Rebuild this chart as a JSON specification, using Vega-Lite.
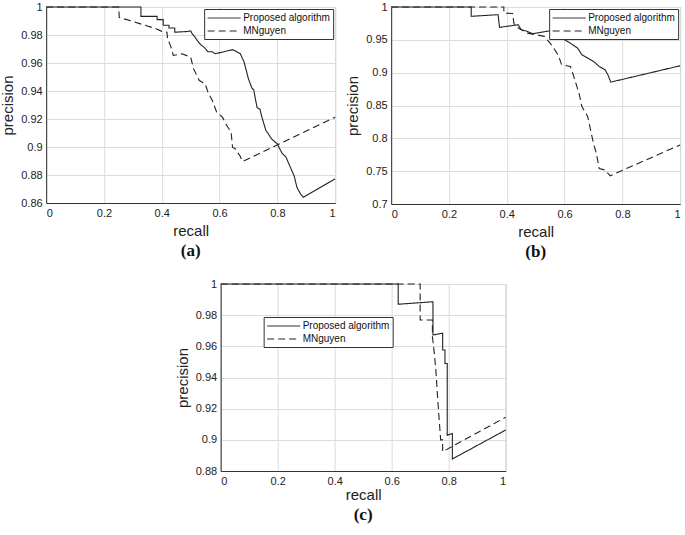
{
  "$schema": "https://vega.github.io/schema/vega-lite/v6.json",
  "background": "white",
  "padding": {"left": 0, "top": 0, "right": 0, "bottom": 0},
  "config": {
    "view": {"stroke": "#c4c4c4"},
    "axis": {"grid": true, "gridColor": "#dcdcdc", "domainColor": "#333", "ticks": false, "labelFont": "Liberation Sans", "labelFontSize": 11, "labelColor": "#222", "labelPadding": 4, "titleFont": "Liberation Sans", "titleFontSize": 15, "titleFontWeight": "normal", "titleColor": "#222", "titlePadding": 5},
    "legend": {"orient": "top-right", "offset": 2, "strokeColor": "#333", "fillColor": "white", "padding": 3, "labelFont": "Liberation Sans", "labelFontSize": 10, "labelColor": "#111", "symbolType": "M-1,0H5", "symbolSize": 121, "symbolStrokeWidth": 1, "symbolStrokeColor": "#222", "rowPadding": 2, "labelOffset": 24},
    "title": {"orient": "bottom", "font": "Liberation Serif", "fontSize": 17, "fontWeight": "bold", "color": "#111", "offset": 5}
  },
  "datasets": {
    "a": [
      {"s": "Proposed algorithm", "i": 0, "r": 0, "p": 1},
      {"s": "Proposed algorithm", "i": 1, "r": 0.328, "p": 1},
      {"s": "Proposed algorithm", "i": 2, "r": 0.328, "p": 0.9933},
      {"s": "Proposed algorithm", "i": 3, "r": 0.384, "p": 0.9933},
      {"s": "Proposed algorithm", "i": 4, "r": 0.384, "p": 0.991},
      {"s": "Proposed algorithm", "i": 5, "r": 0.405, "p": 0.991},
      {"s": "Proposed algorithm", "i": 6, "r": 0.405, "p": 0.987},
      {"s": "Proposed algorithm", "i": 7, "r": 0.425, "p": 0.987},
      {"s": "Proposed algorithm", "i": 8, "r": 0.425, "p": 0.985},
      {"s": "Proposed algorithm", "i": 9, "r": 0.445, "p": 0.985},
      {"s": "Proposed algorithm", "i": 10, "r": 0.445, "p": 0.982},
      {"s": "Proposed algorithm", "i": 11, "r": 0.49, "p": 0.9825},
      {"s": "Proposed algorithm", "i": 12, "r": 0.5, "p": 0.983},
      {"s": "Proposed algorithm", "i": 13, "r": 0.505, "p": 0.981},
      {"s": "Proposed algorithm", "i": 14, "r": 0.515, "p": 0.9785},
      {"s": "Proposed algorithm", "i": 15, "r": 0.525, "p": 0.9755},
      {"s": "Proposed algorithm", "i": 16, "r": 0.535, "p": 0.973},
      {"s": "Proposed algorithm", "i": 17, "r": 0.548, "p": 0.971},
      {"s": "Proposed algorithm", "i": 18, "r": 0.56, "p": 0.968},
      {"s": "Proposed algorithm", "i": 19, "r": 0.575, "p": 0.968},
      {"s": "Proposed algorithm", "i": 20, "r": 0.585, "p": 0.9666},
      {"s": "Proposed algorithm", "i": 21, "r": 0.645, "p": 0.9695},
      {"s": "Proposed algorithm", "i": 22, "r": 0.66, "p": 0.968},
      {"s": "Proposed algorithm", "i": 23, "r": 0.672, "p": 0.9666},
      {"s": "Proposed algorithm", "i": 24, "r": 0.685, "p": 0.9606},
      {"s": "Proposed algorithm", "i": 25, "r": 0.7, "p": 0.9487},
      {"s": "Proposed algorithm", "i": 26, "r": 0.712, "p": 0.942},
      {"s": "Proposed algorithm", "i": 27, "r": 0.718, "p": 0.941},
      {"s": "Proposed algorithm", "i": 28, "r": 0.73, "p": 0.928},
      {"s": "Proposed algorithm", "i": 29, "r": 0.74, "p": 0.927},
      {"s": "Proposed algorithm", "i": 30, "r": 0.745, "p": 0.9225},
      {"s": "Proposed algorithm", "i": 31, "r": 0.76, "p": 0.912},
      {"s": "Proposed algorithm", "i": 32, "r": 0.77, "p": 0.909},
      {"s": "Proposed algorithm", "i": 33, "r": 0.78, "p": 0.9058},
      {"s": "Proposed algorithm", "i": 34, "r": 0.8, "p": 0.9022},
      {"s": "Proposed algorithm", "i": 35, "r": 0.81, "p": 0.898},
      {"s": "Proposed algorithm", "i": 36, "r": 0.815, "p": 0.896},
      {"s": "Proposed algorithm", "i": 37, "r": 0.83, "p": 0.8927},
      {"s": "Proposed algorithm", "i": 38, "r": 0.845, "p": 0.8855},
      {"s": "Proposed algorithm", "i": 39, "r": 0.858, "p": 0.8795},
      {"s": "Proposed algorithm", "i": 40, "r": 0.868, "p": 0.871},
      {"s": "Proposed algorithm", "i": 41, "r": 0.88, "p": 0.8665},
      {"s": "Proposed algorithm", "i": 42, "r": 0.89, "p": 0.8641},
      {"s": "Proposed algorithm", "i": 43, "r": 1, "p": 0.8772},
      {"s": "MNguyen", "i": 0, "r": 0, "p": 1},
      {"s": "MNguyen", "i": 1, "r": 0.251, "p": 1},
      {"s": "MNguyen", "i": 2, "r": 0.253, "p": 0.9925},
      {"s": "MNguyen", "i": 3, "r": 0.3, "p": 0.9897},
      {"s": "MNguyen", "i": 4, "r": 0.35, "p": 0.9864},
      {"s": "MNguyen", "i": 5, "r": 0.38, "p": 0.9845},
      {"s": "MNguyen", "i": 6, "r": 0.4, "p": 0.9826},
      {"s": "MNguyen", "i": 7, "r": 0.418, "p": 0.982},
      {"s": "MNguyen", "i": 8, "r": 0.42, "p": 0.9773},
      {"s": "MNguyen", "i": 9, "r": 0.43, "p": 0.9726},
      {"s": "MNguyen", "i": 10, "r": 0.44, "p": 0.9654},
      {"s": "MNguyen", "i": 11, "r": 0.47, "p": 0.9666},
      {"s": "MNguyen", "i": 12, "r": 0.5, "p": 0.9642},
      {"s": "MNguyen", "i": 13, "r": 0.51, "p": 0.9559},
      {"s": "MNguyen", "i": 14, "r": 0.53, "p": 0.9475},
      {"s": "MNguyen", "i": 15, "r": 0.55, "p": 0.9451},
      {"s": "MNguyen", "i": 16, "r": 0.56, "p": 0.9392},
      {"s": "MNguyen", "i": 17, "r": 0.575, "p": 0.9332},
      {"s": "MNguyen", "i": 18, "r": 0.59, "p": 0.9249},
      {"s": "MNguyen", "i": 19, "r": 0.61, "p": 0.9213},
      {"s": "MNguyen", "i": 20, "r": 0.625, "p": 0.9153},
      {"s": "MNguyen", "i": 21, "r": 0.64, "p": 0.9106},
      {"s": "MNguyen", "i": 22, "r": 0.645, "p": 0.8998},
      {"s": "MNguyen", "i": 23, "r": 0.655, "p": 0.8986},
      {"s": "MNguyen", "i": 24, "r": 0.67, "p": 0.8939},
      {"s": "MNguyen", "i": 25, "r": 0.68, "p": 0.8896},
      {"s": "MNguyen", "i": 26, "r": 1, "p": 0.9213}
    ],
    "b": [
      {"s": "Proposed algorithm", "i": 0, "r": 0, "p": 1},
      {"s": "Proposed algorithm", "i": 1, "r": 0.277, "p": 1},
      {"s": "Proposed algorithm", "i": 2, "r": 0.277, "p": 0.9858},
      {"s": "Proposed algorithm", "i": 3, "r": 0.37, "p": 0.9883},
      {"s": "Proposed algorithm", "i": 4, "r": 0.375, "p": 0.969},
      {"s": "Proposed algorithm", "i": 5, "r": 0.44, "p": 0.973},
      {"s": "Proposed algorithm", "i": 6, "r": 0.45, "p": 0.9654},
      {"s": "Proposed algorithm", "i": 7, "r": 0.47, "p": 0.963},
      {"s": "Proposed algorithm", "i": 8, "r": 0.49, "p": 0.9593},
      {"s": "Proposed algorithm", "i": 9, "r": 0.57, "p": 0.9654},
      {"s": "Proposed algorithm", "i": 10, "r": 0.58, "p": 0.955},
      {"s": "Proposed algorithm", "i": 11, "r": 0.6, "p": 0.95},
      {"s": "Proposed algorithm", "i": 12, "r": 0.62, "p": 0.945},
      {"s": "Proposed algorithm", "i": 13, "r": 0.645, "p": 0.9375},
      {"s": "Proposed algorithm", "i": 14, "r": 0.66, "p": 0.9273},
      {"s": "Proposed algorithm", "i": 15, "r": 0.68, "p": 0.9222},
      {"s": "Proposed algorithm", "i": 16, "r": 0.7, "p": 0.9171},
      {"s": "Proposed algorithm", "i": 17, "r": 0.72, "p": 0.9095},
      {"s": "Proposed algorithm", "i": 18, "r": 0.74, "p": 0.9044},
      {"s": "Proposed algorithm", "i": 19, "r": 0.75, "p": 0.8968},
      {"s": "Proposed algorithm", "i": 20, "r": 0.76, "p": 0.8856},
      {"s": "Proposed algorithm", "i": 21, "r": 1, "p": 0.9105},
      {"s": "MNguyen", "i": 0, "r": 0, "p": 1},
      {"s": "MNguyen", "i": 1, "r": 0.39, "p": 1},
      {"s": "MNguyen", "i": 2, "r": 0.39, "p": 0.9908},
      {"s": "MNguyen", "i": 3, "r": 0.42, "p": 0.99},
      {"s": "MNguyen", "i": 4, "r": 0.425, "p": 0.9746},
      {"s": "MNguyen", "i": 5, "r": 0.44, "p": 0.968},
      {"s": "MNguyen", "i": 6, "r": 0.47, "p": 0.9603},
      {"s": "MNguyen", "i": 7, "r": 0.5, "p": 0.9578},
      {"s": "MNguyen", "i": 8, "r": 0.53, "p": 0.9553},
      {"s": "MNguyen", "i": 9, "r": 0.55, "p": 0.945},
      {"s": "MNguyen", "i": 10, "r": 0.57, "p": 0.9324},
      {"s": "MNguyen", "i": 11, "r": 0.58, "p": 0.9247},
      {"s": "MNguyen", "i": 12, "r": 0.59, "p": 0.912},
      {"s": "MNguyen", "i": 13, "r": 0.62, "p": 0.9095},
      {"s": "MNguyen", "i": 14, "r": 0.63, "p": 0.8968},
      {"s": "MNguyen", "i": 15, "r": 0.65, "p": 0.8688},
      {"s": "MNguyen", "i": 16, "r": 0.66, "p": 0.8485},
      {"s": "MNguyen", "i": 17, "r": 0.68, "p": 0.8332},
      {"s": "MNguyen", "i": 18, "r": 0.69, "p": 0.8129},
      {"s": "MNguyen", "i": 19, "r": 0.7, "p": 0.7925},
      {"s": "MNguyen", "i": 20, "r": 0.71, "p": 0.7773},
      {"s": "MNguyen", "i": 21, "r": 0.72, "p": 0.754},
      {"s": "MNguyen", "i": 22, "r": 0.74, "p": 0.7518},
      {"s": "MNguyen", "i": 23, "r": 0.758, "p": 0.743},
      {"s": "MNguyen", "i": 24, "r": 1, "p": 0.79}
    ],
    "c": [
      {"s": "Proposed algorithm", "i": 0, "r": 0, "p": 1},
      {"s": "Proposed algorithm", "i": 1, "r": 0.623, "p": 1},
      {"s": "Proposed algorithm", "i": 2, "r": 0.623, "p": 0.987},
      {"s": "Proposed algorithm", "i": 3, "r": 0.745, "p": 0.9886},
      {"s": "Proposed algorithm", "i": 4, "r": 0.745, "p": 0.9673},
      {"s": "Proposed algorithm", "i": 5, "r": 0.779, "p": 0.9684},
      {"s": "Proposed algorithm", "i": 6, "r": 0.779, "p": 0.9576},
      {"s": "Proposed algorithm", "i": 7, "r": 0.787, "p": 0.9576},
      {"s": "Proposed algorithm", "i": 8, "r": 0.787, "p": 0.949},
      {"s": "Proposed algorithm", "i": 9, "r": 0.795, "p": 0.949},
      {"s": "Proposed algorithm", "i": 10, "r": 0.795, "p": 0.903},
      {"s": "Proposed algorithm", "i": 11, "r": 0.813, "p": 0.904},
      {"s": "Proposed algorithm", "i": 12, "r": 0.813, "p": 0.8877},
      {"s": "Proposed algorithm", "i": 13, "r": 1, "p": 0.9063},
      {"s": "MNguyen", "i": 0, "r": 0, "p": 1},
      {"s": "MNguyen", "i": 1, "r": 0.7, "p": 1},
      {"s": "MNguyen", "i": 2, "r": 0.7, "p": 0.9769},
      {"s": "MNguyen", "i": 3, "r": 0.743, "p": 0.9769},
      {"s": "MNguyen", "i": 4, "r": 0.743, "p": 0.9662},
      {"s": "MNguyen", "i": 5, "r": 0.75, "p": 0.955},
      {"s": "MNguyen", "i": 6, "r": 0.755, "p": 0.945},
      {"s": "MNguyen", "i": 7, "r": 0.762, "p": 0.925},
      {"s": "MNguyen", "i": 8, "r": 0.768, "p": 0.91},
      {"s": "MNguyen", "i": 9, "r": 0.772, "p": 0.9},
      {"s": "MNguyen", "i": 10, "r": 0.779, "p": 0.9},
      {"s": "MNguyen", "i": 11, "r": 0.779, "p": 0.8924},
      {"s": "MNguyen", "i": 12, "r": 1, "p": 0.9145}
    ]
  },
  "resolve": {"scale": {"strokeDash": "independent"}, "legend": {"strokeDash": "independent"}},
  "spacing": 16,
  "center": true,
  "vconcat": [
    {
      "resolve": {"scale": {"strokeDash": "independent"}, "legend": {"strokeDash": "independent"}},
      "spacing": 7,
      "hconcat": [
        {
          "width": 289, "height": 196,
          "title": {"text": "(a)"},
          "data": {"name": "a"},
          "mark": {"type": "line", "color": "#222", "strokeWidth": 1.1},
          "encoding": {
            "x": {"field": "r", "type": "quantitative", "scale": {"domain": [0, 1], "nice": false}, "axis": {"title": "recall", "values": [0, 0.2, 0.4, 0.6, 0.8, 1], "format": "~g"}},
            "y": {"field": "p", "type": "quantitative", "scale": {"domain": [0.86, 1], "nice": false, "zero": false}, "axis": {"title": "precision", "values": [0.86, 0.88, 0.9, 0.92, 0.94, 0.96, 0.98, 1], "format": "~g"}},
            "strokeDash": {"field": "s", "type": "nominal", "scale": {"domain": ["Proposed algorithm", "MNguyen"], "range": [[1, 0], [7, 4]]}, "legend": {"title": null}},
            "order": {"field": "i", "type": "quantitative"}
          }
        },
        {
          "width": 289, "height": 197,
          "title": {"text": "(b)"},
          "data": {"name": "b"},
          "mark": {"type": "line", "color": "#222", "strokeWidth": 1.1},
          "encoding": {
            "x": {"field": "r", "type": "quantitative", "scale": {"domain": [0, 1], "nice": false}, "axis": {"title": "recall", "values": [0, 0.2, 0.4, 0.6, 0.8, 1], "format": "~g"}},
            "y": {"field": "p", "type": "quantitative", "scale": {"domain": [0.7, 1], "nice": false, "zero": false}, "axis": {"title": "precision", "values": [0.7, 0.75, 0.8, 0.85, 0.9, 0.95, 1], "format": "~g"}},
            "strokeDash": {"field": "s", "type": "nominal", "scale": {"domain": ["Proposed algorithm", "MNguyen"], "range": [[1, 0], [7, 4]]}, "legend": {"title": null}},
            "order": {"field": "i", "type": "quantitative"}
          }
        }
      ]
    },
    {
      "width": 285, "height": 187,
      "title": {"text": "(c)"},
      "data": {"name": "c"},
      "mark": {"type": "line", "color": "#222", "strokeWidth": 1.1},
      "encoding": {
        "x": {"field": "r", "type": "quantitative", "scale": {"domain": [0, 1], "nice": false}, "axis": {"title": "recall", "values": [0, 0.2, 0.4, 0.6, 0.8, 1], "format": "~g", "titlePadding": 1}},
        "y": {"field": "p", "type": "quantitative", "scale": {"domain": [0.88, 1], "nice": false, "zero": false}, "axis": {"title": "precision", "values": [0.88, 0.9, 0.92, 0.94, 0.96, 0.98, 1], "format": "~g"}},
        "strokeDash": {"field": "s", "type": "nominal", "scale": {"domain": ["Proposed algorithm", "MNguyen"], "range": [[1, 0], [7, 4]]}, "legend": {"title": null, "orient": "none", "legendX": 43, "legendY": 33}},
        "order": {"field": "i", "type": "quantitative"}
      }
    }
  ]
}
